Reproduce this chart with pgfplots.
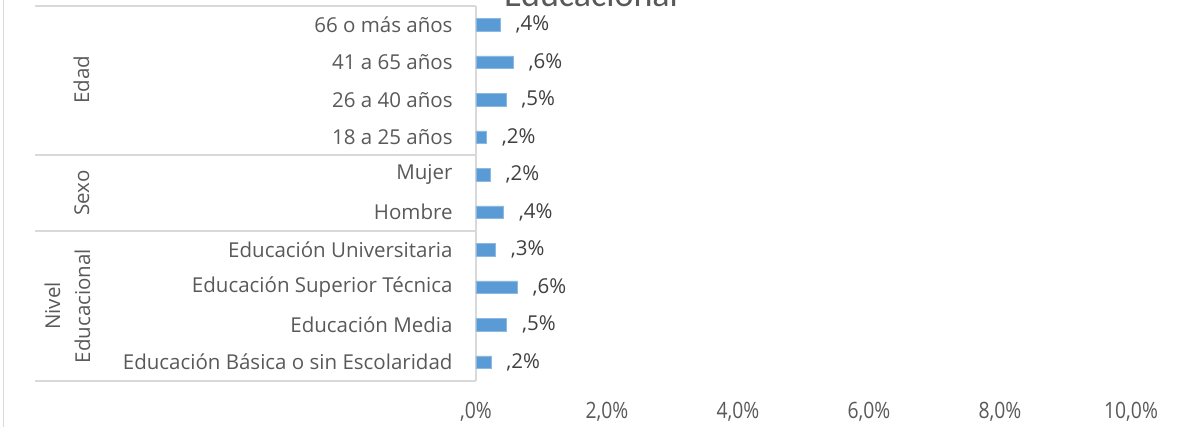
\documentclass[border=0pt]{standalone}
\usepackage{pgfplots}
\pgfplotsset{compat=1.18}
\usepackage{pgfplotstable}
\usepackage{fontspec}
\setmainfont{Open Sans}
\newfontfamily\narrowfont[FakeStretch=0.86]{Open Sans}
\newfontfamily\titlefont{Carlito}
\definecolor{barblue}{HTML}{5B9BD5}
\definecolor{txt}{HTML}{595959}
\definecolor{lbl}{HTML}{404040}
\definecolor{gridc}{HTML}{D9D9D9}
\pgfplotstableread{
y val lab
0 0.23 {,2\%}
1 0.47 {,5\%}
2 0.63 {,6\%}
3 0.30 {,3\%}
4 0.42 {,4\%}
5 0.22 {,2\%}
6 0.16 {,2\%}
7 0.46 {,5\%}
8 0.57 {,6\%}
9 0.37 {,4\%}
}\datatable
\begin{document}
\begin{tikzpicture}[x=1pt,y=1pt]
\useasboundingbox (0,0) rectangle (1179,427);
\draw[gridc, line width=1.5pt] (3.5,0) -- (3.5,427);
\node[font=\titlefont\fontsize{36}{36}\selectfont, text=txt, anchor=base] at (591,420) {Educacional};
% table lines
\draw[gridc, line width=1.3pt] (35,421) -- (476,421);
\draw[gridc, line width=1.3pt] (35,272) -- (476,272);
\draw[gridc, line width=1.3pt] (35,196) -- (476,196);
\draw[gridc, line width=1.3pt] (35,46) -- (476,46);
\draw[gridc, line width=1.3pt] (476,46) -- (476,421);
\node[font=\fontsize{20.5}{20.5}\selectfont, text=txt, rotate=90, anchor=base] at (89,347) {Edad};
\node[font=\fontsize{20.5}{20.5}\selectfont, text=txt, rotate=90, anchor=base] at (89,234) {Sexo};
\node[font=\fontsize{20.5}{20.5}\selectfont, text=txt, rotate=90, anchor=base] at (60,121) {Nivel};
\node[font=\fontsize{20.5}{20.5}\selectfont, text=txt, rotate=90, anchor=base] at (90,121) {Educacional};
\begin{axis}[
  at={(476pt,46pt)}, anchor=south west,
  scale only axis, width=655pt, height=375pt,
  xmin=0, xmax=10, ymin=-0.5, ymax=9.5,
  xbar, bar width=12.5pt,
  axis line style={draw=none},
  tick style={draw=none},
  xtick={0,2,4,6,8,10},
  xticklabels={{\narrowfont ,0\%},{\narrowfont 2,0\%},{\narrowfont 4,0\%},{\narrowfont 6,0\%},{\narrowfont 8,0\%},{\narrowfont 10,0\%}},
  xticklabel style={font=\narrowfont\fontsize{22.5}{22.5}\selectfont, text=txt, anchor=base, yshift=-38pt},
  ytick={0,1,2,3,4,5,6,7,8,9},
  yticklabels={Educación Básica o sin Escolaridad, Educación Media, Educación Superior Técnica, Educación Universitaria, Hombre, Mujer, 18 a 25 años, 26 a 40 años, 41 a 65 años, 66 o más años},
  yticklabel style={font=\fontsize{20.5}{20.5}\selectfont, text=txt, anchor=east, inner sep=0pt, xshift=-19pt},
  nodes near coords,
  point meta=explicit symbolic,
  nodes near coords style={font=\fontsize{20.5}{20.5}\selectfont, text=lbl, anchor=west, inner sep=0pt, xshift=15pt},
  clip=false,
]
\addplot[fill=barblue, draw=barblue!70!white, line width=0.6pt] table[x=val, y=y, meta=lab] {\datatable};
\end{axis}
\end{tikzpicture}
\end{document}
